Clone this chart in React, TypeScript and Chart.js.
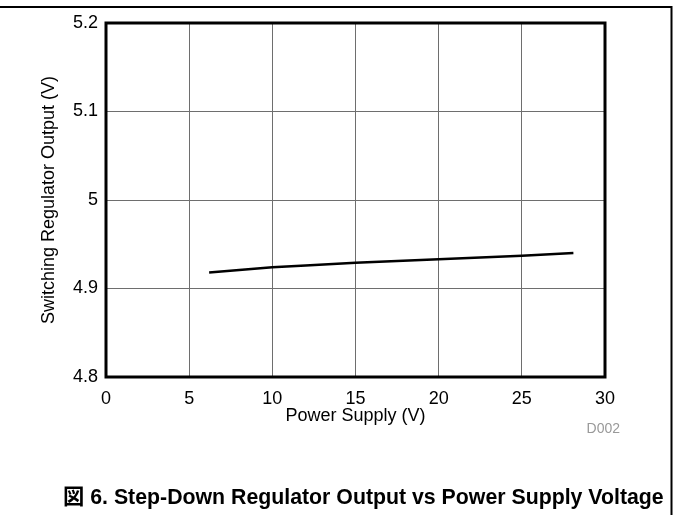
import React, { useEffect, useRef } from "react";
import { Chart, registerables } from "chart.js";

Chart.register(...registerables);

const supplyVoltage = [6.2, 10, 12, 15, 20, 25, 28.1];
const regulatorOutput = [4.918, 4.924, 4.926, 4.929, 4.933, 4.937, 4.94];
const yTicks = [4.8, 4.9, 5, 5.1, 5.2];
const xTicks = [0, 5, 10, 15, 20, 25, 30];
const xTitle = "Power Supply (V)";
const yTitle = "Switching Regulator Output (V)";
const caption = "図 6. Step-Down Regulator Output vs Power Supply Voltage";
const figId = "D002";

const FONT = "'Liberation Sans', Arial, 'Noto Sans CJK JP', sans-serif";

export default function App() {
  const ref = useRef<HTMLCanvasElement | null>(null);
  useEffect(() => {
    const canvas = ref.current;
    if (!canvas) return;
    const decor = {
      id: "decor",
      afterDraw(chart: any) {
        const ctx = chart.ctx;
        const a = chart.chartArea;
        ctx.save();
        ctx.strokeStyle = "#000";
        ctx.lineWidth = 3;
        ctx.strokeRect(a.left, a.top, a.right - a.left, a.bottom - a.top);
        // outer frame
        ctx.lineWidth = 2;
        ctx.beginPath();
        ctx.moveTo(0, 7);
        ctx.lineTo(671.5, 7);
        ctx.lineTo(671.5, 515);
        ctx.stroke();
        ctx.fillStyle = "#000";
        ctx.font = `18px ${FONT}`;
        ctx.textAlign = "center";
        ctx.textBaseline = "middle";
        // x title
        ctx.fillText(xTitle, (a.left + a.right) / 2, 416);
        // y title
        ctx.save();
        ctx.translate(49, (a.top + a.bottom) / 2);
        ctx.rotate(-Math.PI / 2);
        ctx.fillText(yTitle, 0, 0);
        ctx.restore();
        ctx.fillStyle = "#999";
        ctx.font = `14px ${FONT}`;
        ctx.textAlign = "right";
        ctx.fillText(figId, 620, 429);
        ctx.fillStyle = "#000";
        ctx.font = `bold 21.3px ${FONT}`;
        ctx.textAlign = "left";
        ctx.fillText(caption, 63, 498);
        ctx.restore();
      },
    };
    const chart = new Chart(canvas, {
      type: "line",
      data: {
        datasets: [
          {
            data: supplyVoltage.map((x, i) => ({ x, y: regulatorOutput[i] })),
            borderColor: "#000",
            borderWidth: 2.5,
            pointRadius: 0,
            tension: 0,
          },
        ],
      },
      options: {
        animation: false,
        responsive: false,
        devicePixelRatio: 1,
        layout: { padding: { left: 0, right: 68, top: 23, bottom: 93 } },
        plugins: { legend: { display: false }, tooltip: { enabled: false } },
        scales: {
          x: {
            type: "linear",
            min: 0,
            max: 30,
            afterBuildTicks: (s: any) => {
              s.ticks = xTicks.map((v) => ({ value: v }));
            },
            afterFit: (s: any) => {
              s.height = 45;
            },
            grid: { color: "#6e6e6e", lineWidth: 1, drawTicks: false },
            border: { display: false },
            ticks: {
              color: "#000",
              font: { family: FONT, size: 18 },
              padding: 11,
              maxRotation: 0,
              callback: (v: any) => String(v),
            },
          },
          y: {
            type: "linear",
            min: 4.8,
            max: 5.2,
            afterBuildTicks: (s: any) => {
              s.ticks = yTicks.map((v) => ({ value: v }));
            },
            afterFit: (s: any) => {
              s.width = 106;
            },
            grid: { color: "#6e6e6e", lineWidth: 1, drawTicks: false },
            border: { display: false },
            ticks: {
              color: "#000",
              font: { family: FONT, size: 18 },
              padding: 8,
              callback: (v: any) => String(Math.round(v * 10) / 10),
            },
          },
        },
      },
      plugins: [decor],
    });
    return () => chart.destroy();
  }, []);
  return (
    <div style={{ position: "absolute", left: 0, top: 0, width: 673, height: 515, background: "#fff" }}>
      <canvas ref={ref} width={673} height={515} style={{ width: 673, height: 515, display: "block" }} />
    </div>
  );
}
